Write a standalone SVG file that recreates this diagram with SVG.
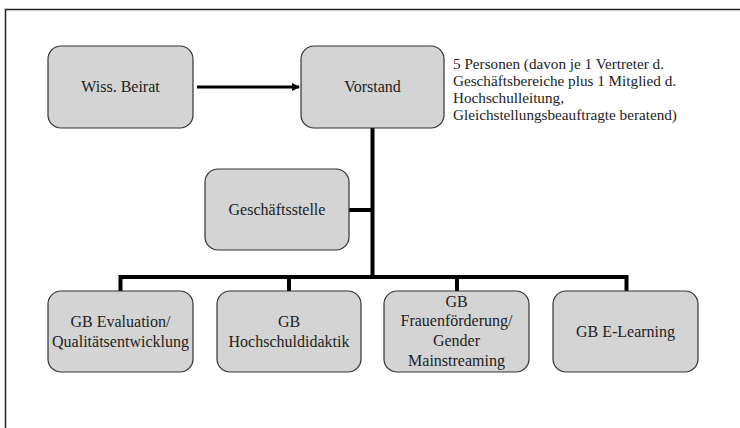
<svg xmlns="http://www.w3.org/2000/svg" width="740" height="428" viewBox="0 0 740 428" font-family="Liberation Serif, serif">
<style>
.box{fill:#d4d4d4;stroke:#333;stroke-width:1.2}
.t{font-size:16px;fill:#222;text-anchor:middle}
.n{font-size:15.2px;fill:#222}
.c{fill:none;stroke:#000;stroke-width:4}
</style>
<defs>
<marker id="ah" markerWidth="8" markerHeight="8" refX="7" refY="4" orient="auto" markerUnits="userSpaceOnUse">
<path d="M0,0 L8,4 L0,8 Z" fill="#000"/>
</marker>
</defs>
<rect width="740" height="428" fill="#fff"/>
<path d="M5.5,430 V9.5 H745" fill="none" stroke="#222" stroke-width="1.5"/>
<g id="connectors">
<line x1="197" y1="87" x2="299" y2="87" stroke="#000" stroke-width="3" marker-end="url(#ah)"/>
<line class="c" x1="372.5" y1="128" x2="372.5" y2="277"/>
<line class="c" x1="349" y1="210" x2="372.5" y2="210"/>
<path class="c" d="M120.5,291 V277 H626.5 V291"/>
<line class="c" x1="289" y1="277" x2="289" y2="291"/>
<line class="c" x1="457" y1="277" x2="457" y2="291"/>
</g>
<g id="wiss-beirat">
<rect class="box" x="48" y="46" width="145" height="82" rx="13"/>
<text class="t" x="120.5" y="92" font-family="Liberation Serif">Wiss. Beirat</text>
</g>
<g id="vorstand">
<rect class="box" x="301" y="46" width="143" height="82" rx="13"/>
<text class="t" x="372.5" y="92" font-family="Liberation Serif">Vorstand</text>
</g>
<g id="note" font-family="Liberation Serif">
<text class="n" x="453" y="69">5 Personen (davon je 1 Vertreter d.</text>
<text class="n" x="453" y="86">Geschäftsbereiche plus 1 Mitglied d.</text>
<text class="n" x="453" y="103">Hochschulleitung,</text>
<text class="n" x="453" y="120">Gleichstellungsbeauftragte beratend)</text>
</g>
<g id="geschaeftsstelle" font-family="Liberation Serif">
<rect class="box" x="205" y="169" width="144" height="81" rx="13"/>
<text class="t" x="277" y="215">Geschäftsstelle</text>
</g>
<g id="gb-evaluation" font-family="Liberation Serif">
<rect class="box" x="48" y="291" width="145" height="81" rx="13"/>
<text class="t" x="120.5" y="327">GB Evaluation/</text>
<text class="t" x="120.5" y="347">Qualitätsentwicklung</text>
</g>
<g id="gb-hochschuldidaktik" font-family="Liberation Serif">
<rect class="box" x="217" y="291" width="144" height="81" rx="13"/>
<text class="t" x="289" y="327">GB</text>
<text class="t" x="289" y="347">Hochschuldidaktik</text>
</g>
<g id="gb-frauenfoerderung" font-family="Liberation Serif">
<rect class="box" x="384" y="291" width="145" height="81" rx="13"/>
<text class="t" x="456.5" y="307">GB</text>
<text class="t" x="456.5" y="326">Frauenförderung/</text>
<text class="t" x="456.5" y="346">Gender</text>
<text class="t" x="456.5" y="366">Mainstreaming</text>
</g>
<g id="gb-elearning" font-family="Liberation Serif">
<rect class="box" x="553" y="291" width="145" height="81" rx="13"/>
<text class="t" x="625.5" y="337">GB E-Learning</text>
</g>
</svg>
